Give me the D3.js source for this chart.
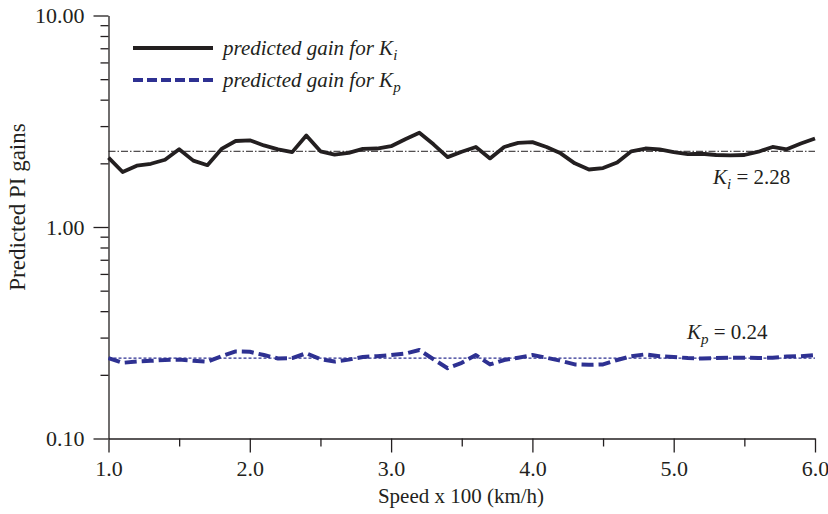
<!DOCTYPE html>
<html>
<head>
<meta charset="utf-8">
<script src="https://cdn.jsdelivr.net/npm/d3@7"></script>
<style>
  html, body { margin: 0; padding: 0; background: #fff; }
  svg { display: block; }
  text { font-family: "Liberation Serif", "Times New Roman", Times, serif; fill: #231f20; }
</style>
</head>
<body>
<svg id="chart" width="828" height="514"></svg>
<script>
// ---- data ----
const speed = [1.0,1.1,1.2,1.3,1.4,1.5,1.6,1.7,1.8,1.9,2.0,2.1,2.2,2.3,2.4,2.5,2.6,2.7,2.8,2.9,
               3.0,3.1,3.2,3.3,3.4,3.5,3.6,3.7,3.8,3.9,4.0,4.1,4.2,4.3,4.4,4.5,4.6,4.7,4.8,4.9,
               5.0,5.1,5.2,5.3,5.4,5.5,5.6,5.7,5.8,5.9,6.0];
const kiGain = [2.13,1.82,1.95,1.99,2.08,2.33,2.06,1.96,2.34,2.55,2.57,2.43,2.33,2.26,2.71,2.28,2.20,2.24,2.34,2.35,
                2.41,2.60,2.79,2.46,2.14,2.27,2.39,2.11,2.39,2.50,2.52,2.39,2.23,2.00,1.87,1.90,2.02,2.28,2.35,2.33,
                2.26,2.21,2.22,2.19,2.18,2.19,2.27,2.39,2.33,2.48,2.62];
const kpGain = [0.240,0.228,0.231,0.233,0.235,0.236,0.233,0.231,0.245,0.258,0.257,0.248,0.239,0.240,0.253,0.237,0.231,0.236,0.243,0.245,
                0.248,0.252,0.262,0.237,0.215,0.228,0.248,0.224,0.235,0.241,0.248,0.241,0.233,0.224,0.223,0.224,0.235,0.245,0.250,0.245,
                0.243,0.240,0.239,0.240,0.241,0.241,0.240,0.241,0.244,0.245,0.248];
const kiRef = 2.28;
const kpRef = 0.24;
const xTicks = [1,2,3,4,5,6];
const xMinorTicks = [1.5,2.5,3.5,4.5,5.5];
const yTicks = [0.1,1,10];
const yMinorTicks = [0.2,0.3,0.4,0.5,0.6,0.7,0.8,0.9,2,3,4,5,6,7,8,9];
const legendLabels = ["predicted gain for ", "predicted gain for "];
const legendSubs = ["i", "p"];

// ---- layout ----
const svg = d3.select("#chart");
const black = "#231f20", blue = "#2e3192";
const FONT = '"Liberation Serif", "Times New Roman", Times, serif';
const x = d3.scaleLinear().domain([1, 6]).range([108.5, 815]);
const y = d3.scaleLog().domain([0.1, 10]).range([438.5, 15.5]);
const axisY0 = 438.5;

// axes
svg.append("g").attr("transform", `translate(0,${axisY0})`)
  .call(d3.axisBottom(x).tickValues(xTicks).tickFormat(d3.format(".1f")).tickSize(14).tickSizeOuter(0).tickPadding(8));
const gxm = svg.append("g").attr("transform", `translate(0,${axisY0})`)
  .call(d3.axisBottom(x).tickValues(xMinorTicks).tickFormat("").tickSize(8).tickSizeOuter(0));
gxm.select(".domain").remove();

svg.append("g").attr("transform", `translate(108.5,0)`)
  .call(d3.axisLeft(y).tickValues(yTicks).tickFormat(d3.format(".2f")).tickSize(15).tickSizeOuter(0).tickPadding(9));
const gym = svg.append("g").attr("transform", `translate(108.5,0)`)
  .call(d3.axisLeft(y).tickValues(yMinorTicks).tickFormat("").tickSize(8).tickSizeOuter(0));
gym.select(".domain").remove();

svg.selectAll("g").attr("font-family", FONT);
svg.selectAll(".domain, .tick line").attr("stroke", "#231f20").attr("stroke-width", 1.3);
svg.selectAll(".tick text").attr("font-size", 22).attr("fill", black);

// axis titles
svg.append("text").attr("x", 461).attr("y", 503).attr("text-anchor", "middle")
  .attr("font-size", 21).text("Speed x 100 (km/h)");
svg.append("text").attr("transform", "translate(25,207) rotate(-90)").attr("text-anchor", "middle")
  .attr("font-size", 23).text("Predicted PI gains");

// reference lines
svg.append("line").attr("x1", x(1)).attr("x2", x(6)).attr("y1", y(kiRef)).attr("y2", y(kiRef))
  .attr("stroke", black).attr("stroke-width", 1).attr("stroke-dasharray", "7,2,1.5,2");
svg.append("line").attr("x1", x(1)).attr("x2", x(6)).attr("y1", y(kpRef)).attr("y2", y(kpRef))
  .attr("stroke", blue).attr("stroke-width", 1.2).attr("stroke-dasharray", "3,2");

// series
const line = (vals) => d3.line().x((d, i) => x(speed[i])).y(d => y(d))(vals);
svg.append("path").attr("d", line(kiGain)).attr("fill", "none")
  .attr("stroke", black).attr("stroke-width", 3.8).attr("stroke-linejoin", "round");
svg.append("path").attr("d", line(kpGain)).attr("fill", "none")
  .attr("stroke", blue).attr("stroke-width", 4).attr("stroke-dasharray", "12,5").attr("stroke-linejoin", "round");

// annotations
function subLabel(xp, yp, sub, rest) {
  const t = svg.append("text").attr("x", xp).attr("y", yp).attr("font-size", 21);
  t.append("tspan").attr("font-style", "italic").text("K");
  t.append("tspan").attr("font-style", "italic").attr("font-size", 15).attr("dy", 5).text(sub);
  t.append("tspan").attr("dy", -5).text(rest);
  return t;
}
subLabel(713, 184, "i", " = 2.28");
subLabel(687, 339, "p", " = 0.24");

// legend
const legY = [48, 80];
svg.append("line").attr("x1", 133).attr("x2", 213).attr("y1", legY[0]).attr("y2", legY[0])
  .attr("stroke", black).attr("stroke-width", 4);
svg.append("line").attr("x1", 133).attr("x2", 213).attr("y1", legY[1]).attr("y2", legY[1])
  .attr("stroke", blue).attr("stroke-width", 4).attr("stroke-dasharray", "10,4");
legendLabels.forEach((lab, i) => {
  const t = svg.append("text").attr("x", 223).attr("y", legY[i] + 7).attr("font-size", 21).attr("font-style", "italic");
  t.append("tspan").text(lab + "K");
  t.append("tspan").attr("font-size", 15).attr("dy", 5).text(legendSubs[i]);
});
</script>
</body>
</html>
